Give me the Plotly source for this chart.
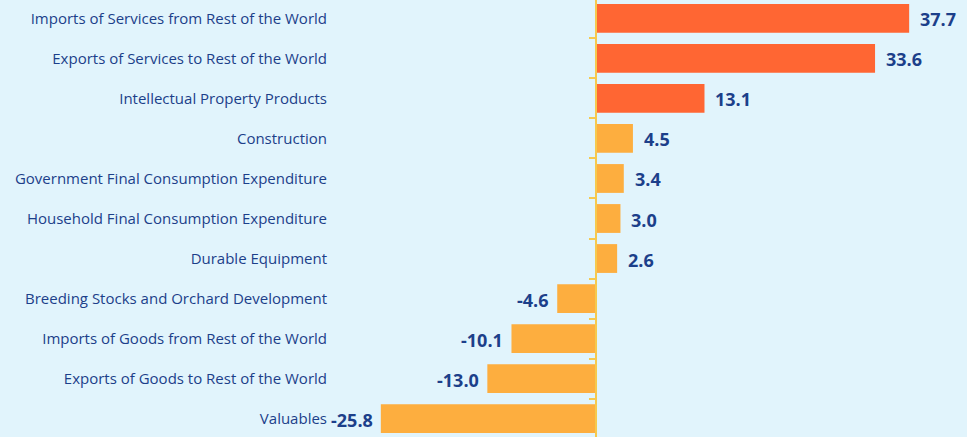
import plotly.graph_objects as go

categories = [
    "Imports of Services from Rest of the World",
    "Exports of Services to Rest of the World",
    "Intellectual Property Products",
    "Construction",
    "Government Final Consumption Expenditure",
    "Household Final Consumption Expenditure",
    "Durable Equipment",
    "Breeding Stocks and Orchard Development",
    "Imports of Goods from Rest of the World",
    "Exports of Goods to Rest of the World",
    "Valuables",
]
values = [37.7, 33.6, 13.1, 4.5, 3.4, 3.0, 2.6, -4.6, -10.1, -13.0, -25.8]
highlight = [True, True, True, False, False, False, False, False, False, False, False]

RED = "#FF6633"
ORANGE = "#FDAE3F"
BG = "#E1F4FC"
TEXT = "#1C3F8A"
GOLD = "#F6C94E"

colors = [RED if h else ORANGE for h in highlight]

W, H = 967, 437
L = 340
px_per_unit = 8.32
zero_px = 595.5
xmin = (L - zero_px) / px_per_unit
xmax = (W - zero_px) / px_per_unit
zero_frac = (zero_px - L) / (W - L)

fig = go.Figure()
fig.add_trace(go.Bar(
    x=values, y=categories, orientation="h",
    marker=dict(color=colors, line=dict(width=0)),
    width=0.72, hoverinfo="skip", yaxis="y",
))
# invisible trace to drive the tick axis at zero
fig.add_trace(go.Scatter(
    x=[0] * len(categories), y=categories, mode="markers",
    marker=dict(opacity=0), yaxis="y2", hoverinfo="skip", showlegend=False,
))

for c, v in zip(categories, values):
    fig.add_annotation(
        x=v, y=c, xref="x", yref="y", text=f"<b>{v:.1f}</b>",
        showarrow=False, xanchor="left" if v >= 0 else "right",
        xshift=9 if v >= 0 else -6, yshift=-1,
        font=dict(family="Open Sans", size=18, color=TEXT),
    )

yr = [10.46, -0.46]
fig.update_layout(
    width=W, height=H,
    margin=dict(l=L, r=0, t=0, b=0),
    paper_bgcolor=BG, plot_bgcolor=BG,
    showlegend=False,
    xaxis=dict(range=[xmin, xmax], showgrid=False, zeroline=False,
               showticklabels=False, ticks="", fixedrange=True),
    yaxis=dict(type="category", categoryorder="array", categoryarray=categories,
               range=yr, showgrid=False, zeroline=False, showline=False,
               ticks="", ticklabelstandoff=12,
               tickfont=dict(family="Open Sans", size=15, color=TEXT)),
    yaxis2=dict(type="category", categoryorder="array", categoryarray=categories,
                range=yr, overlaying="y", anchor="free", position=zero_frac,
                side="left", showgrid=False, zeroline=False,
                showline=True, linecolor=GOLD, linewidth=2,
                ticks="outside", tickson="boundaries", ticklen=6,
                tickcolor=GOLD, tickwidth=2, showticklabels=False),
)

fig.write_html(
    "out.html",
    config={"displayModeBar": False},
    post_script="document.body.style.margin='0';document.body.style.overflow='hidden';",
)
